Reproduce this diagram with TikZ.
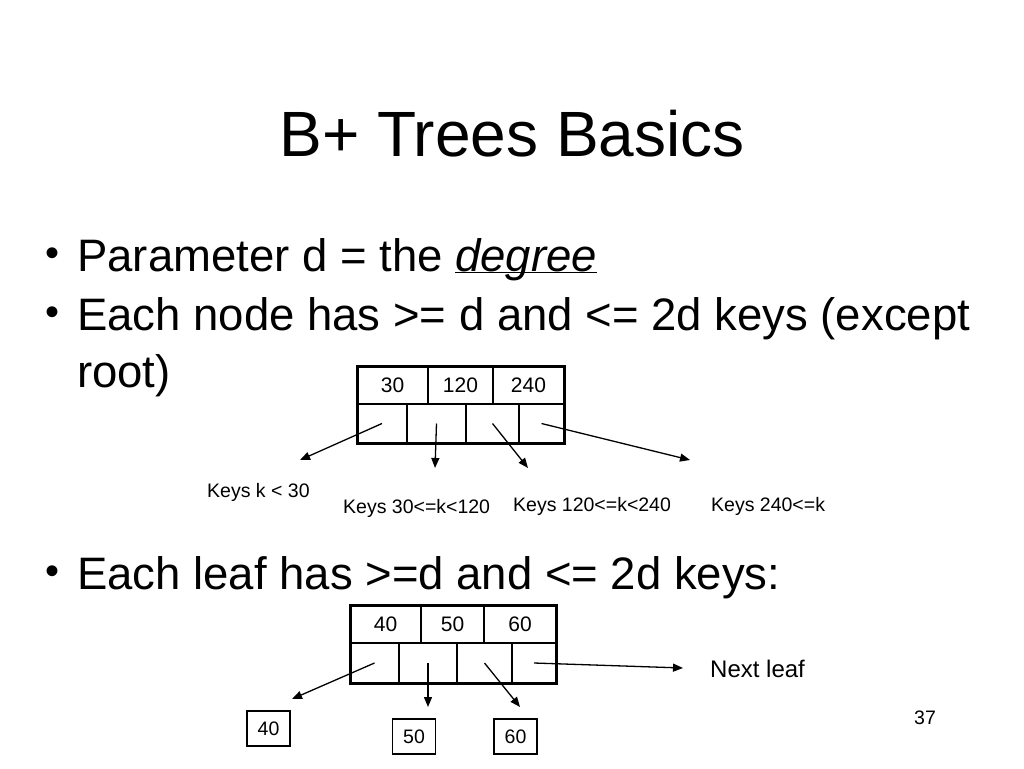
\documentclass[tikz,border=0pt]{standalone}
\usepackage{fontspec}
\setmainfont{Liberation Sans}
\usetikzlibrary{arrows.meta, positioning}

\newcommand{\ulword}[1]{\underline{\smash{#1}}}

\tikzset{
  key/.style = {draw, line width=1.2pt, inner sep=0pt, outer sep=0pt,
                minimum height=38pt, font=\fontsize{21}{21}\selectfont},
  ptr/.style = {draw, line width=1.2pt, inner sep=0pt, outer sep=0pt,
                minimum height=39pt},
  leaf/.style = {draw, line width=1.2pt, inner sep=0pt, minimum width=43pt,
                 minimum height=35pt, font=\fontsize{19.5}{19.5}\selectfont},
  lbl/.style = {anchor=base west, inner sep=0pt, font=\fontsize{19.5}{19.5}\selectfont},
  item/.style = {anchor=base west, inner sep=0pt, font=\fontsize{45.5}{45.5}\selectfont},
  dotmark/.style = {anchor=base west, inner sep=0pt, font=\fontsize{40}{40}\selectfont},
  ptrarrow/.style = {-{Triangle[length=10pt, width=8pt]}, line width=1.3pt},
}

\begin{document}
\begin{tikzpicture}[x=1pt, y=-1pt, node distance=0pt]
  \useasboundingbox (0,0) rectangle (1024,768);

  \node (title) [anchor=base, font=\fontsize{64}{64}\selectfont] at (512,156) {B+ Trees Basics};

  % bullet list
  \node (dot1) [dotmark] at (45,266) {•};
  \node (item1) [item] at (77,271) {Parameter d = the \ulword{\textit{degree}}};
  \node (dot2) [dotmark] at (45,325) {•};
  \node (item2) [item] at (77,330) {Each node has >= d and <= 2d keys (except};
  \node (item2b) [item] at (77,387) {root)};
  \node (dot3) [dotmark] at (45,584) {•};
  \node (item3) [item] at (77,589) {Each leaf has >=d and <= 2d keys:};

  % inner node
  \node (k30) [key, minimum width=71pt] at (392.5,385) {30};
  \node (k120) [key, minimum width=65pt, right=of k30] {120};
  \node (k240) [key, minimum width=71pt, right=of k120] {240};
  \node (p1) [ptr, minimum width=50pt, below right=of k30.south west] {};
  \node (p2) [ptr, minimum width=59pt, right=of p1] {};
  \node (p3) [ptr, minimum width=53pt, right=of p2] {};
  \node (p4) [ptr, minimum width=45pt, right=of p3] {};
  \draw [line width=3pt] (k30.north west) rectangle (p4.south east);

  \coordinate (less30) at (300,460);
  \coordinate (from30) at (435,468);
  \coordinate (from120) at (528,468);
  \coordinate (from240) at (690,460);

  \node (lbl1) [lbl] at (207,497) {Keys k < 30};
  \node (lbl2) [lbl] at (343,513) {Keys 30<=k<120};
  \node (lbl3) [lbl] at (513,511) {Keys 120<=k<240};
  \node (lbl4) [lbl] at (711,511) {Keys 240<=k};

  \path [ptrarrow]
    (p1.center) edge (less30)
    (p2.center) edge (from30)
    (p3.center) edge (from120)
    (p4.center) edge (from240);

  % leaf node
  \node (k40) [key, minimum width=71pt] at (385.5,624) {40};
  \node (k50) [key, minimum width=63pt, right=of k40] {50};
  \node (k60) [key, minimum width=72pt, right=of k50] {60};
  \node (q1) [ptr, minimum width=49pt, minimum height=40pt, below right=of k40.south west] {};
  \node (q2) [ptr, minimum width=58pt, minimum height=40pt, right=of q1] {};
  \node (q3) [ptr, minimum width=55pt, minimum height=40pt, right=of q2] {};
  \node (q4) [ptr, minimum width=44pt, minimum height=40pt, right=of q3] {};
  \draw [line width=3pt] (k40.north west) rectangle (q4.south east);

  \node (r40) [leaf] at (268.5,728.5) {40};
  \node (r50) [leaf] at (414,736.5) {50};
  \node (r60) [leaf] at (515.5,736.5) {60};

  \coordinate (to40) at (292,699);
  \coordinate (to50) at (428,707);
  \coordinate (to60) at (520,707);
  \coordinate (tonext) at (683,668);

  \node (next) [lbl, font=\fontsize{24}{24}\selectfont] at (710,677) {Next leaf};

  \path [ptrarrow]
    (q1.center) edge (to40)
    (q2.center) edge (to50)
    (q3.center) edge (to60)
    (q4.center) edge (tonext);

  \node (page) [lbl] at (914,724) {37};
\end{tikzpicture}
\end{document}
